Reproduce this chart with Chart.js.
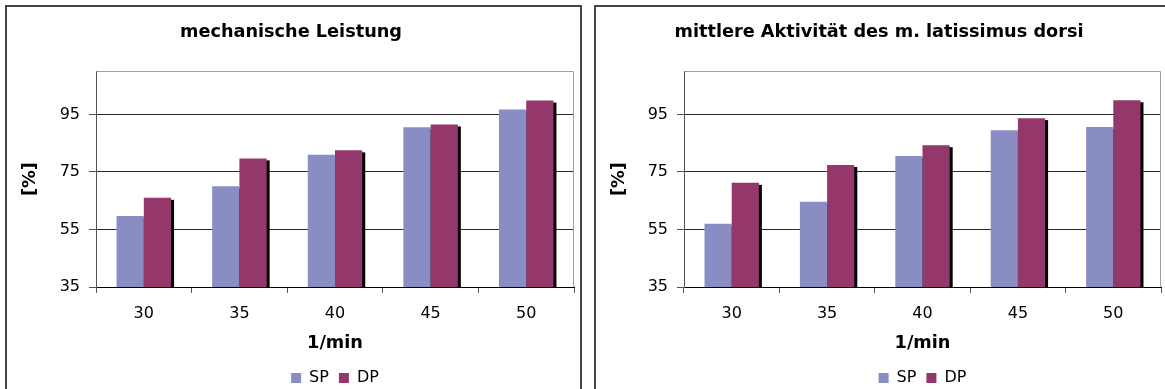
<!DOCTYPE html>
<html>
<head>
<meta charset="utf-8">
<script src="https://cdn.jsdelivr.net/npm/chart.js@4/dist/chart.umd.min.js"></script>
<style>
  html, body { margin: 0; padding: 0; background: #fff; overflow: hidden; }
  body { width: 1165px; height: 389px; position: relative; }
  .panel { position: absolute; box-sizing: border-box; border: 2px solid #444; background: #fff; }
  #panelLeft { left: 5px; top: 5px; width: 577px; height: 420px; }
  #panelRight { left: 594px; top: 5px; width: 580px; height: 420px; }
  canvas { position: absolute; top: 8px; }
  #chartLeft { left: 8px; }
  #chartRight { left: 597px; }
</style>
</head>
<body>
<div class="panel" id="panelLeft"></div>
<div class="panel" id="panelRight"></div>
<canvas id="chartLeft" width="570" height="388"></canvas>
<canvas id="chartRight" width="566" height="388"></canvas>
<script>
// Trittfrequenz categories (1/min)
const categories = ['30', '35', '40', '45', '50'];

// mechanische Leistung [%]
const leistungSP = [59.7, 70.0, 81.0, 90.5, 96.7];
const leistungDP = [66.0, 79.7, 82.5, 91.5, 99.8];

// mittlere Aktivität des m. latissimus dorsi [%]
const latissimusSP = [57.0, 64.6, 80.5, 89.5, 90.6];
const latissimusDP = [71.2, 77.4, 84.3, 93.7, 99.9];

// value axis
const yTicks = [35, 55, 75, 95];
const yMin = 35;
const yMax = 110;

const seriesNames = ['SP', 'DP'];
const colorSP = '#8a8dc3';
const colorDP = '#94376a';

Chart.defaults.font.family = '"DejaVu Sans", Verdana, sans-serif';
Chart.defaults.color = '#000';

// hard drop shadow under every bar, painted before the bars themselves
const barShadow = {
  id: 'barShadow',
  beforeDatasetsDraw(chart) {
    const { ctx, chartArea: a } = chart;
    ctx.save();
    ctx.beginPath();
    ctx.rect(a.left, a.top, a.right - a.left + 4, a.bottom - a.top);
    ctx.clip();
    ctx.fillStyle = '#000';
    chart.data.datasets.forEach((ds, i) => {
      chart.getDatasetMeta(i).data.forEach(bar => {
        const left = bar.x - bar.width / 2;
        ctx.fillRect(left + 3, bar.y + 2, bar.width, bar.base - bar.y);
      });
    });
    ctx.restore();
  }
};

// light frame on the top and right side of the plot area
const plotFrame = {
  id: 'plotFrame',
  beforeDatasetsDraw(chart) {
    const { ctx, chartArea: a } = chart;
    ctx.save();
    ctx.strokeStyle = '#a0a0a0';
    ctx.lineWidth = 1;
    ctx.beginPath();
    ctx.moveTo(Math.round(a.left) + 0.5, Math.round(a.top) + 0.5);
    ctx.lineTo(Math.round(a.right) - 0.5, Math.round(a.top) + 0.5);
    ctx.lineTo(Math.round(a.right) - 0.5, Math.round(a.bottom));
    ctx.stroke();
    ctx.restore();
  }
};

// centre the legend under the plot area instead of the whole canvas
const legendUnderPlot = {
  id: 'legendUnderPlot',
  beforeDraw(chart) {
    const lg = chart.legend;
    if (!lg) return;
    lg.left = chart.chartArea.left;
    lg.right = chart.chartArea.right;
    lg.width = lg.right - lg.left;
  }
};

function makeChart(canvasId, title, sp, dp, axisWidth, padRight) {
  return new Chart(document.getElementById(canvasId), {
    type: 'bar',
    data: {
      labels: categories,
      datasets: [
        { label: seriesNames[0], data: sp, backgroundColor: colorSP, borderWidth: 0 },
        { label: seriesNames[1], data: dp, backgroundColor: colorDP, borderWidth: 0 }
      ]
    },
    options: {
      responsive: false,
      animation: false,
      devicePixelRatio: 1,
      datasets: { bar: { categoryPercentage: 0.57, barPercentage: 1.0 } },
      layout: { padding: { left: 0, right: padRight, top: 0, bottom: 0 } },
      plugins: {
        title: {
          display: true,
          text: title,
          font: { size: 17.7, weight: 'bold' },
          color: '#000',
          padding: { top: 14, bottom: 28 }
        },
        legend: {
          display: true,
          position: 'bottom',
          labels: {
            boxWidth: 10,
            boxHeight: 10,
            padding: 10,
            font: { size: 16 },
            color: '#000'
          }
        },
        tooltip: { enabled: false }
      },
      scales: {
        x: {
          offset: true,
          grid: {
            display: true,
            offset: true,
            drawOnChartArea: false,
            drawTicks: true,
            tickLength: 6,
            tickColor: '#555'
          },
          border: { display: true, color: '#000', width: 1 },
          ticks: { font: { size: 16 }, color: '#000', padding: 11, maxRotation: 0 },
          title: {
            display: true,
            text: '1/min',
            font: { size: 17.7, weight: 'bold' },
            color: '#000',
            padding: { top: 4, bottom: 6 }
          },
          afterFit(scale) { scale.height = 73; }
        },
        y: {
          min: yMin,
          max: yMax,
          afterBuildTicks(scale) {
            scale.ticks = yTicks.map(v => ({ value: v }));
          },
          grid: {
            color: '#2a2a2a',
            lineWidth: 1,
            drawTicks: true,
            tickLength: 7,
            tickColor: '#555'
          },
          border: { display: true, color: '#555', width: 1 },
          ticks: { font: { size: 16 }, color: '#000', padding: 9 },
          title: {
            display: true,
            text: '[%]',
            font: { size: 17.7, weight: 'bold' },
            color: '#000',
            padding: { top: 12, bottom: 0 }
          },
          afterFit(scale) { scale.width = axisWidth; }
        }
      }
    },
    plugins: [barShadow, plotFrame, legendUnderPlot]
  });
}

makeChart('chartLeft', 'mechanische Leistung', leistungSP, leistungDP, 88, 4);
makeChart('chartRight', 'mittlere Aktivität des m. latissimus dorsi', latissimusSP, latissimusDP, 87, 2);
</script>
</body>
</html>
